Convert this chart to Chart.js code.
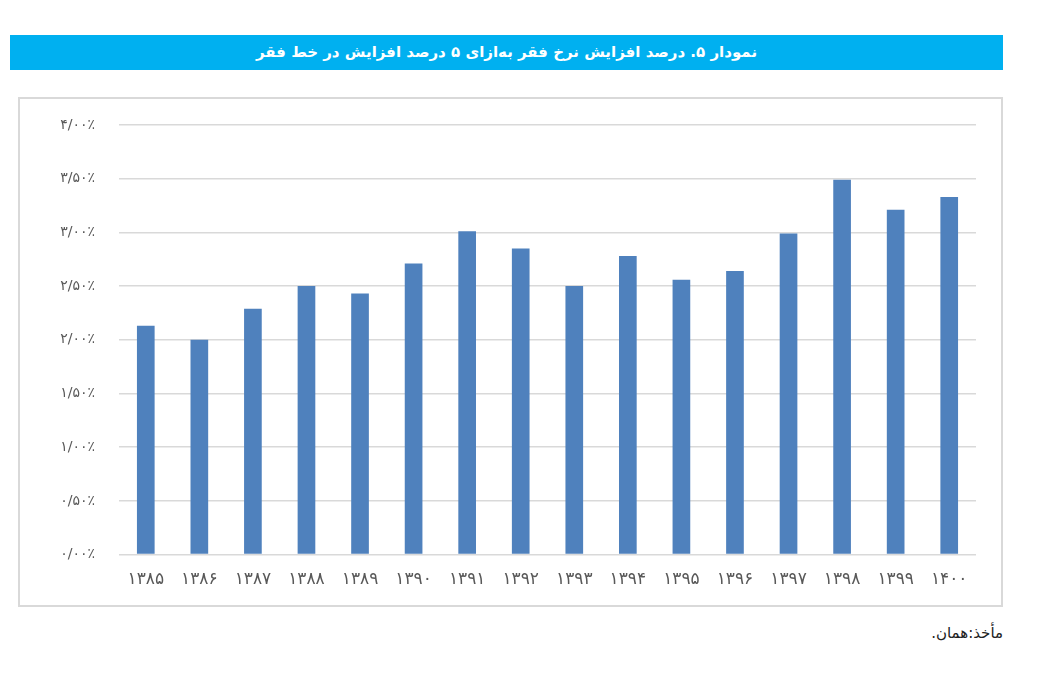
<!DOCTYPE html>
<html lang="fa">
<head>
<meta charset="utf-8">
<script src="https://cdn.jsdelivr.net/npm/chart.js@4/dist/chart.umd.min.js"></script>
<style>
  body { margin: 0; background: #fff; width: 1059px; height: 673px; position: relative; font-family: "DejaVu Sans", sans-serif; }
  #title { position: absolute; left: 10px; top: 35px; width: 993px; height: 35px; background: #00b0f0; color: #fff;
           font-weight: bold; font-size: 15px; line-height: 35px; text-align: center; direction: rtl; }
  #box { position: absolute; left: 18px; top: 97px; width: 985px; height: 510px; border: 2px solid #d9d9d9; box-sizing: border-box; }
  #source { position: absolute; right: 56px; top: 624px; font-size: 15px; color: #222; direction: rtl; }
</style>
</head>
<body>
<div id="title">نمودار ۵. درصد افزایش نرخ فقر به‌ازای ۵ درصد افزایش در خط فقر</div>
<div id="box"><canvas id="povertyChart"></canvas></div>
<div id="source">مأخذ:همان.</div>
<script>
// years (solar hijri)
const years = ['۱۳۸۵', '۱۳۸۶', '۱۳۸۷', '۱۳۸۸', '۱۳۸۹', '۱۳۹۰', '۱۳۹۱', '۱۳۹۲',
               '۱۳۹۳', '۱۳۹۴', '۱۳۹۵', '۱۳۹۶', '۱۳۹۷', '۱۳۹۸', '۱۳۹۹', '۱۴۰۰'];
// percent increase in poverty rate
const povertyIncrease = [2.13, 2.00, 2.29, 2.50, 2.43, 2.71, 3.01, 2.85,
                         2.50, 2.78, 2.56, 2.64, 2.99, 3.49, 3.21, 3.33];
// y tick labels, bottom to top
const yTickLabels = ['۰/۰۰٪', '۰/۵۰٪', '۱/۰۰٪', '۱/۵۰٪', '۲/۰۰٪', '۲/۵۰٪', '۳/۰۰٪', '۳/۵۰٪', '۴/۰۰٪'];

document.addEventListener("DOMContentLoaded", function() {
    var ctx = document.getElementById('povertyChart').getContext('2d');
    var config = {
        type: 'bar',
        data: {
            labels: years,
            datasets: [{
                data: povertyIncrease,
                backgroundColor: '#4f81bd',
                barPercentage: 0.33,
                categoryPercentage: 1.0,
            }]
        },
        options: {
            responsive: true,
            maintainAspectRatio: false,
            animation: false,
            layout: { padding: { left: 0, right: 25, top: 26, bottom: 0 } },
            plugins: {
                legend: { display: false },
                tooltip: { enabled: false },
            },
            scales: {
                x: {
                    grid: { display: false, drawTicks: false },
                    border: { display: false },
                    ticks: {
                        color: '#595959',
                        font: { family: 'DejaVu Sans', size: 17 },
                        padding: 15,
                        maxRotation: 0,
                    },
                },
                y: {
                    min: 0,
                    max: 4,
                    afterFit: function(scale) {
                        // fixed axis width, and let layout padding set the top/bottom
                        scale.width = 99;
                        scale.paddingTop = 0;
                        scale.paddingBottom = 0;
                    },
                    grid: { color: '#d9d9d9', lineWidth: 1.5, drawTicks: false },
                    border: { display: false },
                    ticks: {
                        stepSize: 0.5,
                        color: '#595959',
                        padding: 24,
                        font: { family: 'DejaVu Sans', size: 14 },
                        callback: function(value, index) { return yTickLabels[index]; },
                    },
                },
            },
        },
    };
    var povertyChart = new Chart(ctx, config);
});
</script>
</body>
</html>
